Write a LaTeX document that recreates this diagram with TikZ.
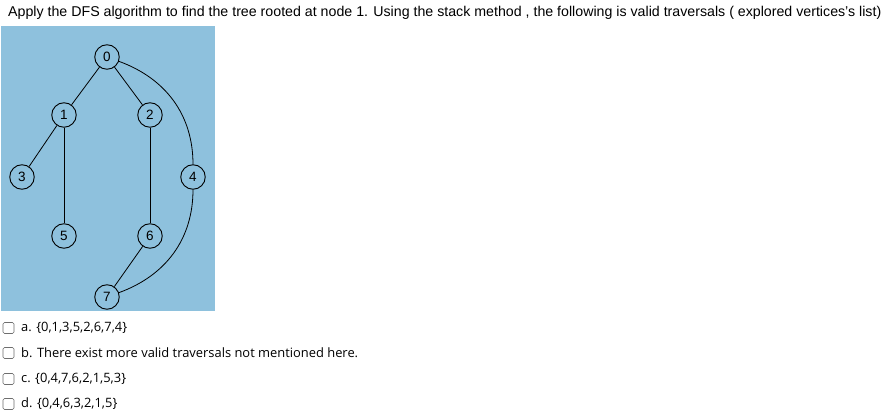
\documentclass[tikz,border=0pt]{standalone}
\usepackage{fontspec}
\setmainfont{Liberation Sans}
\newfontfamily\optfont{Open Sans}
\definecolor{panel}{HTML}{8EC1DD}
\definecolor{boxgray}{HTML}{6E6E6E}
\begin{document}
\begin{tikzpicture}[x=1pt,y=-1pt,
  vtx/.style={circle,draw,line width=0.9pt,minimum size=24.5pt,inner sep=0pt,font=\fontsize{13.5}{13.5}\selectfont},
  edge/.style={line width=0.8pt},
  chk/.style={draw=boxgray,rounded corners=1.5pt,line width=0.7pt,minimum size=11pt,inner sep=0pt},
  opt/.style={anchor=west,inner sep=0pt,font=\optfont\fontsize{12.9}{13}\selectfont}]
\useasboundingbox (0,0) rectangle (883,419);
\fill[white] (0,0) rectangle (883,419);
\node[anchor=west,inner sep=0pt,font=\fontsize{14.2}{15}\selectfont] (title) at (8,13) {Apply the DFS algorithm to find the tree rooted at node 1. Using the stack method , the following is valid traversals ( explored vertices's list)};
\fill[panel] (1,26) rectangle (215,311);
\node[vtx] (n0) at (107,57) {0};
\node[vtx] (n1) at (64,115) {1};
\node[vtx] (n2) at (150,115) {2};
\node[vtx] (n3) at (22,177) {3};
\node[vtx] (n4) at (193,177) {4};
\node[vtx] (n5) at (64,236) {5};
\node[vtx] (n6) at (150,236) {6};
\node[vtx] (n7) at (107,297) {7};
\draw[edge] (n0) -- (n1);
\draw[edge] (n0) -- (n2);
\draw[edge] (n1) -- (n3);
\draw[edge] (n1) -- (n5);
\draw[edge] (n2) -- (n6);
\draw[edge] (n6) -- (n7);
\draw[edge] (n0) to[out=-20,in=90] (n4);
\draw[edge] (n4) to[out=-90,in=20] (n7);
\node[chk] (ca) at (8.5,328) {};
\node[chk] (cb) at (8.5,353) {};
\node[chk] (cc) at (8.5,379) {};
\node[chk] (cd) at (8.5,404) {};
\node[opt] (ta) at (21,328) {a. \{0,1,3,5,2,6,7,4\}};
\node[opt] (tb) at (21,353) {b. There exist more valid traversals not mentioned here.};
\node[opt] (tc) at (21,379) {c. \{0,4,7,6,2,1,5,3\}};
\node[opt] (td) at (21,404) {d. \{0,4,6,3,2,1,5\}};
\end{tikzpicture}
\end{document}
